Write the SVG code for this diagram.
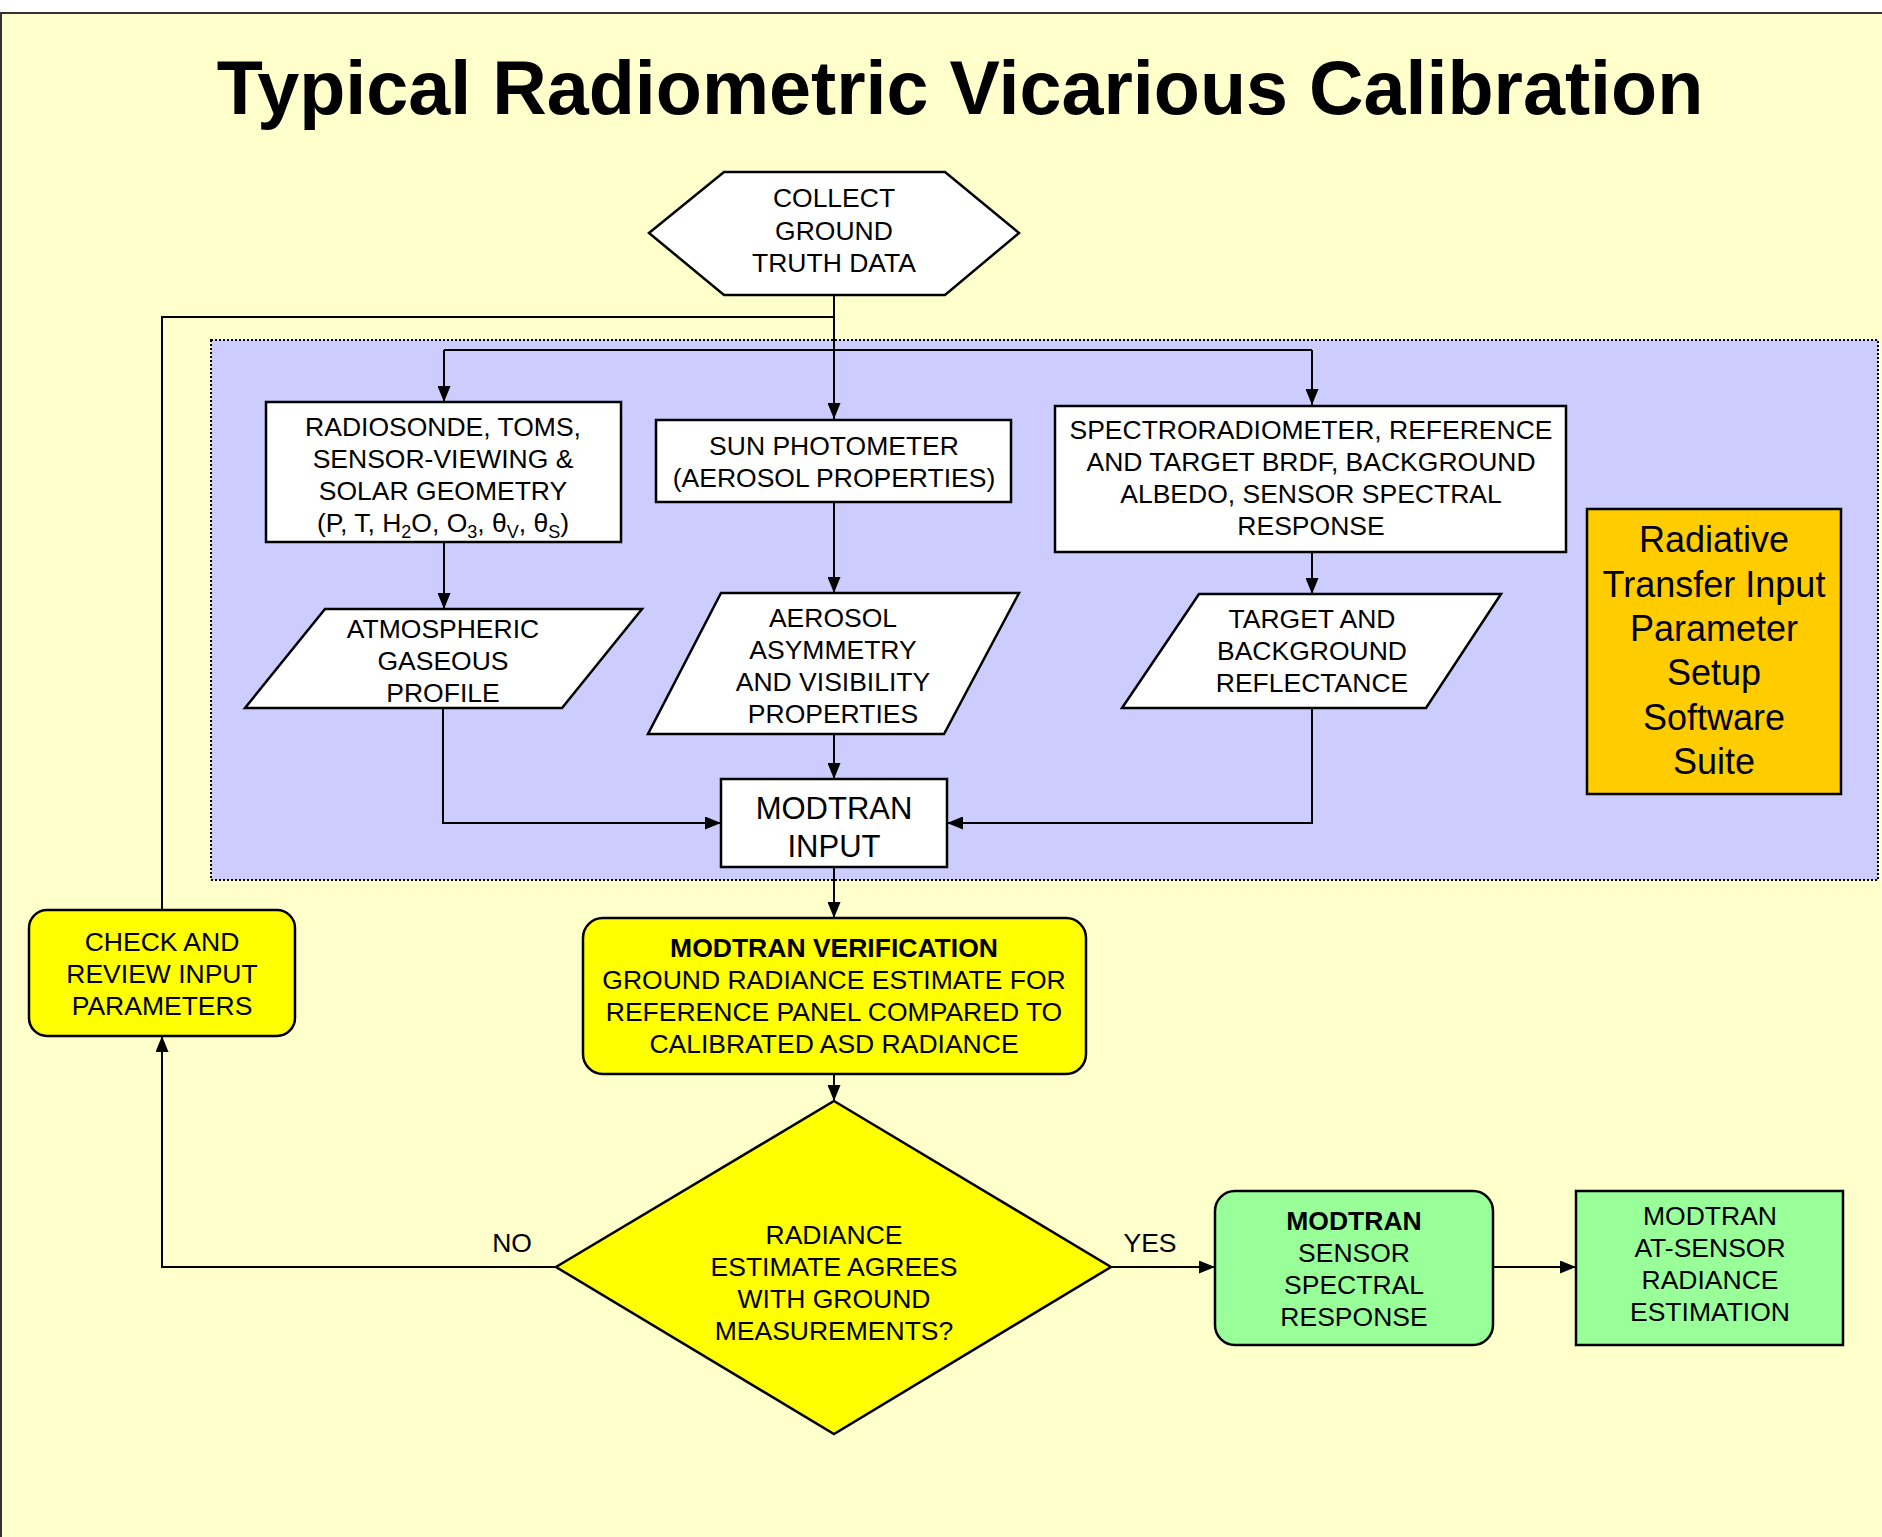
<svg xmlns="http://www.w3.org/2000/svg" width="1882" height="1537" viewBox="0 0 1882 1537">
<style>
text{font-family:"Liberation Sans",Arial,sans-serif;fill:#000;text-anchor:middle}
.t{font-size:26.5px}
.b{font-weight:bold}
.box{stroke:#000;stroke-width:2.5}
.w{fill:#fff}
.y{fill:#ffff00}
.g{fill:#99ff99}
.conn{fill:none;stroke:#000;stroke-width:2}
</style>
<defs>
<marker id="ah" markerUnits="userSpaceOnUse" markerWidth="17" markerHeight="13" refX="16" refY="6.5" orient="auto">
<path d="M0,0 L16,6.5 L0,13 z" fill="#000"/>
</marker>
</defs>
<rect x="0" y="0" width="1882" height="1537" fill="#fff"/>
<rect x="1" y="13" width="1900" height="1600" fill="#ffffcc" stroke="#333" stroke-width="2"/>
<text x="960" y="114" class="b" font-size="75.5">Typical Radiometric Vicarious Calibration</text>

<g id="panel">
<rect x="211" y="340" width="1667" height="540" fill="#ccccff" stroke="#000" stroke-width="2" stroke-dasharray="2,2"/>
</g>

<g id="connectors">
<path class="conn" d="M834,295 V419" marker-end="url(#ah)"/>
<path class="conn" d="M444,350 H1312"/>
<path class="conn" d="M444,350 V402" marker-end="url(#ah)"/>
<path class="conn" d="M1312,350 V405" marker-end="url(#ah)"/>
<path class="conn" d="M162,910 V317 H834"/>
<path class="conn" d="M444,542 V609" marker-end="url(#ah)"/>
<path class="conn" d="M834,502 V593" marker-end="url(#ah)"/>
<path class="conn" d="M1312,552 V594" marker-end="url(#ah)"/>
<path class="conn" d="M443,708 V823 H721" marker-end="url(#ah)"/>
<path class="conn" d="M1312,708 V823 H947" marker-end="url(#ah)"/>
<path class="conn" d="M834,734 V779" marker-end="url(#ah)"/>
<path class="conn" d="M834,867 V918" marker-end="url(#ah)"/>
<path class="conn" d="M834,1074 V1101" marker-end="url(#ah)"/>
<path class="conn" d="M556,1267 H162 V1036" marker-end="url(#ah)"/>
<path class="conn" d="M1111,1267 H1215" marker-end="url(#ah)"/>
<path class="conn" d="M1493,1267 H1576" marker-end="url(#ah)"/>
<text x="512" y="1252" class="t">NO</text>
<text x="1150" y="1252" class="t">YES</text>
</g>

<g id="collect">
<polygon class="box w" points="649,233 724,172 945,172 1019,233 945,295 724,295"/>
<text x="834" y="207" class="t">COLLECT</text>
<text x="834" y="240" class="t">GROUND</text>
<text x="834" y="272" class="t">TRUTH DATA</text>
</g>

<g id="radiosonde">
<rect class="box w" x="266" y="402" width="355" height="140"/>
<text x="443" y="436" class="t">RADIOSONDE, TOMS,</text>
<text x="443" y="468" class="t">SENSOR-VIEWING &amp;</text>
<text x="443" y="500" class="t">SOLAR GEOMETRY</text>
<text x="443" y="532" class="t">(P, T, H<tspan dy="6" font-size="18">2</tspan><tspan dy="-6">O, O</tspan><tspan dy="6" font-size="18">3</tspan><tspan dy="-6">, θ</tspan><tspan dy="6" font-size="18">V</tspan><tspan dy="-6">, θ</tspan><tspan dy="6" font-size="18">S</tspan><tspan dy="-6">)</tspan></text>
</g>

<g id="sunphotometer">
<rect class="box w" x="656" y="420" width="355" height="82"/>
<text x="834" y="455" class="t">SUN PHOTOMETER</text>
<text x="834" y="487" class="t">(AEROSOL PROPERTIES)</text>
</g>

<g id="spectro">
<rect class="box w" x="1055" y="406" width="511" height="146"/>
<text x="1311" y="439" class="t">SPECTRORADIOMETER, REFERENCE</text>
<text x="1311" y="471" class="t">AND TARGET BRDF, BACKGROUND</text>
<text x="1311" y="503" class="t">ALBEDO, SENSOR SPECTRAL</text>
<text x="1311" y="535" class="t">RESPONSE</text>
</g>

<g id="atmospheric">
<polygon class="box w" points="325,609 642,609 562,708 245,708"/>
<text x="443" y="638" class="t">ATMOSPHERIC</text>
<text x="443" y="670" class="t">GASEOUS</text>
<text x="443" y="702" class="t">PROFILE</text>
</g>

<g id="aerosol">
<polygon class="box w" points="721,593 1019,593 944,734 648,734"/>
<text x="833" y="627" class="t">AEROSOL</text>
<text x="833" y="659" class="t">ASYMMETRY</text>
<text x="833" y="691" class="t">AND VISIBILITY</text>
<text x="833" y="723" class="t">PROPERTIES</text>
</g>

<g id="target">
<polygon class="box w" points="1199,594 1501,594 1426,708 1122,708"/>
<text x="1312" y="628" class="t">TARGET AND</text>
<text x="1312" y="660" class="t">BACKGROUND</text>
<text x="1312" y="692" class="t">REFLECTANCE</text>
</g>

<g id="radiative">
<rect class="box" fill="#ffcc00" x="1587" y="509" width="254" height="285"/>
<g font-size="36">
<text x="1714" y="552">Radiative</text>
<text x="1714" y="597">Transfer Input</text>
<text x="1714" y="641">Parameter</text>
<text x="1714" y="685">Setup</text>
<text x="1714" y="730">Software</text>
<text x="1714" y="774">Suite</text>
</g>
</g>

<g id="modtraninput">
<rect class="box w" x="721" y="779" width="226" height="88"/>
<text x="834" y="819" font-size="31">MODTRAN</text>
<text x="834" y="857" font-size="31">INPUT</text>
</g>

<g id="verification">
<rect class="box y" x="583" y="918" width="503" height="156" rx="20"/>
<text x="834" y="957" class="t b">MODTRAN VERIFICATION</text>
<text x="834" y="989" class="t">GROUND RADIANCE ESTIMATE FOR</text>
<text x="834" y="1021" class="t">REFERENCE PANEL COMPARED TO</text>
<text x="834" y="1053" class="t">CALIBRATED ASD RADIANCE</text>
</g>

<g id="check">
<rect class="box y" x="29" y="910" width="266" height="126" rx="18"/>
<text x="162" y="951" class="t">CHECK AND</text>
<text x="162" y="983" class="t">REVIEW INPUT</text>
<text x="162" y="1015" class="t">PARAMETERS</text>
</g>

<g id="decision">
<polygon class="box y" points="834,1101 1111,1267 834,1434 556,1267" stroke-width="2"/>
<text x="834" y="1244" class="t">RADIANCE</text>
<text x="834" y="1276" class="t">ESTIMATE AGREES</text>
<text x="834" y="1308" class="t">WITH GROUND</text>
<text x="834" y="1340" class="t">MEASUREMENTS?</text>
</g>

<g id="sensorresponse">
<rect class="box g" x="1215" y="1191" width="278" height="154" rx="20"/>
<text x="1354" y="1230" class="t b">MODTRAN</text>
<text x="1354" y="1262" class="t">SENSOR</text>
<text x="1354" y="1294" class="t">SPECTRAL</text>
<text x="1354" y="1326" class="t">RESPONSE</text>
</g>

<g id="atsensor">
<rect class="box g" x="1576" y="1191" width="267" height="154"/>
<text x="1710" y="1225" class="t">MODTRAN</text>
<text x="1710" y="1257" class="t">AT-SENSOR</text>
<text x="1710" y="1289" class="t">RADIANCE</text>
<text x="1710" y="1321" class="t">ESTIMATION</text>
</g>
</svg>
